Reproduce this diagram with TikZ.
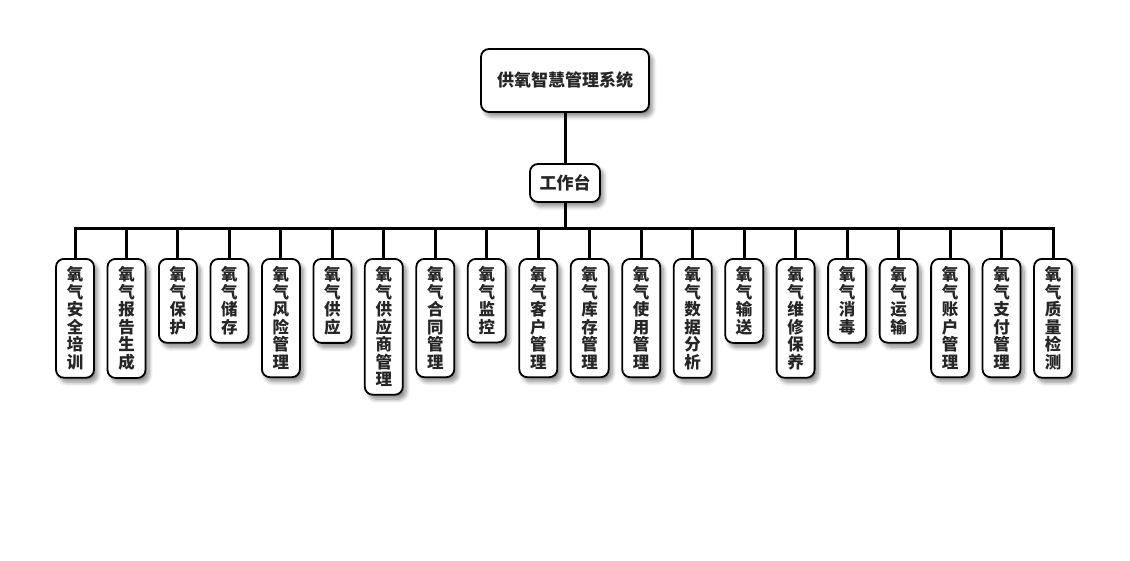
\documentclass[tikz,border=0pt]{standalone}
\usepackage{fontspec}
\newfontfamily\cjk{Noto Sans CJK SC}
\usetikzlibrary{shadows.blur}
\definecolor{textc}{HTML}{262626}
\begin{document}
\begin{tikzpicture}[x=1pt,y=-1pt,
  box/.style={draw=black, line width=1.8pt, rounded corners=8pt, fill=white,
    blur shadow={shadow xshift=3.5pt, shadow yshift=-4.5pt, shadow blur steps=8, shadow blur radius=4pt, shadow opacity=45},
    text=textc, font=\cjk\bfseries\fontsize{16.5}{17.5}\selectfont},
  leaf/.style={box, anchor=north, minimum width=38pt, inner xsep=0pt, inner ysep=7.8pt, align=center},
  conn/.style={draw=black, line width=3pt}]
\useasboundingbox (0,0) rectangle (1130,560);
\node[box, minimum width=168pt, minimum height=63pt, font=\cjk\bfseries\fontsize{17}{19}\selectfont] (root) at (565,80.5) {供氧智慧管理系统};
\node[box, minimum width=70pt, minimum height=38pt, font=\cjk\bfseries\fontsize{17}{19}\selectfont] (wt) at (565,183) {工作台};
\coordinate (bus) at (565,228.5);
\node[leaf] (c1) at (75.0,258) {氧\\气\\安\\全\\培\\训};
\node[leaf] (c2) at (126.5,258) {氧\\气\\报\\告\\生\\成};
\node[leaf] (c3) at (177.9,258) {氧\\气\\保\\护};
\node[leaf] (c4) at (229.4,258) {氧\\气\\储\\存};
\node[leaf] (c5) at (280.9,258) {氧\\气\\风\\险\\管\\理};
\node[leaf] (c6) at (332.4,258) {氧\\气\\供\\应};
\node[leaf] (c7) at (383.8,258) {氧\\气\\供\\应\\商\\管\\理};
\node[leaf] (c8) at (435.3,258) {氧\\气\\合\\同\\管\\理};
\node[leaf] (c9) at (486.8,258) {氧\\气\\监\\控};
\node[leaf] (c10) at (538.3,258) {氧\\气\\客\\户\\管\\理};
\node[leaf] (c11) at (589.7,258) {氧\\气\\库\\存\\管\\理};
\node[leaf] (c12) at (641.2,258) {氧\\气\\使\\用\\管\\理};
\node[leaf] (c13) at (692.7,258) {氧\\气\\数\\据\\分\\析};
\node[leaf] (c14) at (744.2,258) {氧\\气\\输\\送};
\node[leaf] (c15) at (795.6,258) {氧\\气\\维\\修\\保\\养};
\node[leaf] (c16) at (847.1,258) {氧\\气\\消\\毒};
\node[leaf] (c17) at (898.6,258) {氧\\气\\运\\输};
\node[leaf] (c18) at (950.1,258) {氧\\气\\账\\户\\管\\理};
\node[leaf] (c19) at (1001.5,258) {氧\\气\\支\\付\\管\\理};
\node[leaf] (c20) at (1053.0,258) {氧\\气\\质\\量\\检\\测};
\draw[conn] (root.south) -- (wt.north);
\draw[conn] (wt.south) -- (bus);
\foreach \i in {1,...,20} {
  \draw[conn] (c\i.north) |- (bus);
}
\end{tikzpicture}
\end{document}
